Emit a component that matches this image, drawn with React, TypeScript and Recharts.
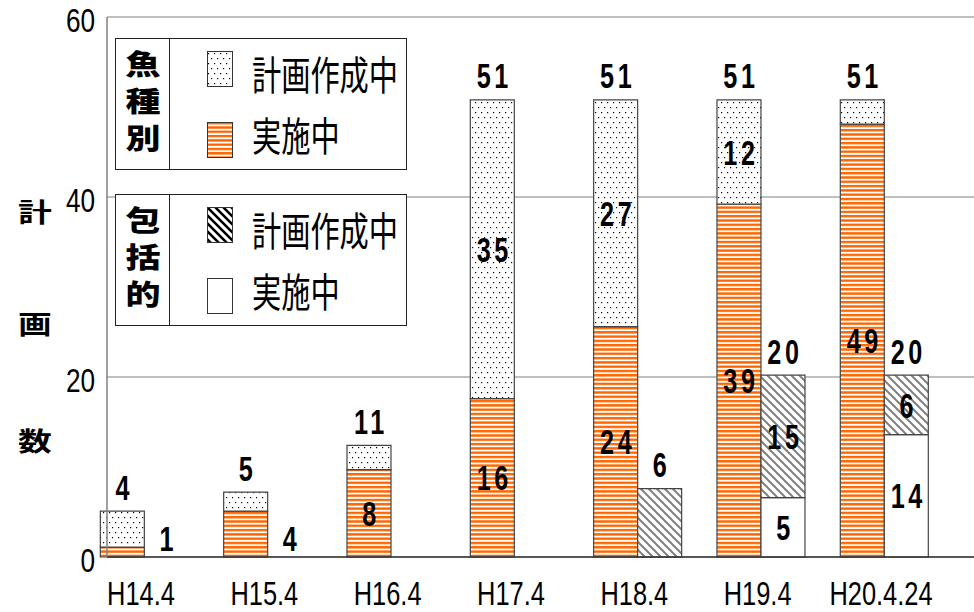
import React from 'react';
import { BarChart, Bar, XAxis, YAxis, CartesianGrid, Legend, LabelList } from 'recharts';

const categories = ['H14.4', 'H15.4', 'H16.4', 'H17.4', 'H18.4', 'H19.4', 'H20.4.24'];

// bar heights as drawn in the picture
const fishDone = [1.1, 5.1, 9.7, 17.6, 25.6, 39.2, 48.1];
const fishPlanning = [4.0, 2.1, 2.7, 33.2, 25.2, 11.6, 2.7];
const compDone = [0, 0, 0, 0, 0, 6.6, 13.6];
const compPlanning = [0, 0, 0, 0, 7.6, 13.6, 6.6];

// numbers printed on the chart
const fishDoneText = ['', '', '8', '16', '24', '39', '49'];
const fishPlanningText = ['', '', '', '35', '27', '12', ''];
const fishTotalText = ['4', '5', '11', '51', '51', '51', '51'];
const fishSideText = ['1', '4', '', '', '', '', ''];
const compDoneText = ['', '', '', '', '', '5', '14'];
const compPlanningText = ['', '', '', '', '', '15', '6'];
const compTotalText = ['', '', '', '', '6', '20', '20'];

const yTicks = [0, 20, 40, 60];
const yTitle = ['計', '画', '数'];
const legendGroups = ['魚種別', '包括的'];
const legendStatus = ['計画作成中', '実施中'];

const rows = categories.map((name, i) => ({
    idx: i,
    name,
    fishDone: fishDone[i],
    fishPlanning: fishPlanning[i],
    compDone: compDone[i],
    compPlanning: compPlanning[i],
    fishDoneText: fishDoneText[i],
    fishPlanningText: fishPlanningText[i],
    fishTotalText: fishTotalText[i],
    fishSideText: fishSideText[i],
    compDoneText: compDoneText[i],
    compPlanningText: compPlanningText[i],
    compTotalText: compTotalText[i],
}));

const sans = "'Liberation Sans', Arial, sans-serif";
const cjk = "'Noto Sans CJK JP', sans-serif";

const box = (props: any) => {
    const vb = props.viewBox || props;
    return { x: Number(vb.x), y: Number(vb.y), w: Number(vb.width), h: Number(vb.height) };
};

// condensed bold numbers, like the original's narrow face
const Num = ({ x, y, text }: { x: number; y: number; text: string }) => (
    <text
        transform={`translate(${x}, ${y}) scale(0.72, 1)`}
        textAnchor="middle"
        dominantBaseline="central"
        fontFamily={sans}
        fontWeight="bold"
        fontSize={35}
        letterSpacing={5}
        fill="#000"
    >
        {text}
    </text>
);

const insideLabel = (props: any) => {
    if (!props.value) return null;
    const { x, y, w, h } = box(props);
    return <Num x={x + w / 2 + 2} y={y + h / 2} text={String(props.value)} />;
};

const aboveLabel = (props: any) => {
    if (!props.value) return null;
    const { x, y, w } = box(props);
    return <Num x={x + w / 2 + 2} y={y - 24} text={String(props.value)} />;
};

// number printed beside the fish bar, near the baseline
const sideLabel = (props: any) => {
    if (!props.value) return null;
    const { x, y, w, h } = box(props);
    return <Num x={x + w * 1.5 + 2} y={y + h - 19} text={String(props.value)} />;
};

const XTick = (props: any) => {
    const { x, y, payload } = props;
    return (
        <text
            transform={`translate(${x - 3}, ${y + 40}) scale(0.77, 1)`}
            textAnchor="middle"
            fontFamily={sans}
            fontSize={33}
            fill="#000"
        >
            {categories[payload.value]}
        </text>
    );
};

const YTick = (props: any) => {
    const { x, y, payload } = props;
    return (
        <text
            transform={`translate(${x - 4}, ${y + 3}) scale(0.77, 1)`}
            textAnchor="end"
            dominantBaseline="central"
            fontFamily={sans}
            fontSize={34}
            fill="#000"
        >
            {payload.value}
        </text>
    );
};

const YTitle = (props: any) => {
    const vb = props.viewBox || {};
    const top = Number(vb.y) || 17;
    const h = Number(vb.height) || 540;
    const spots = [0.358, 0.567, 0.783];
    return (
        <g>
            {yTitle.map((ch, i) => (
                <text
                    key={ch}
                    transform={`translate(35, ${top + h * spots[i]}) scale(1.3, 1)`}
                    textAnchor="middle"
                    dominantBaseline="central"
                    fontFamily={cjk}
                    fontWeight="bold"
                    fontSize={26}
                    fill="#000"
                >
                    {ch}
                </text>
            ))}
        </g>
    );
};

const swatchFills = [
    ['url(#dotsFill)', 'url(#stripeFill)'],
    ['url(#hatchDark)', '#fff'],
];

const LegendPanel = () => (
    <div>
        {legendGroups.map((group, gi) => (
            <div
                key={group}
                style={{
                    position: 'relative',
                    width: 292,
                    height: 132,
                    marginBottom: 24,
                    border: '1.5px solid #222',
                    boxSizing: 'border-box',
                    background: '#fff',
                }}
            >
                <div style={{ position: 'absolute', left: 53, top: 0, bottom: 0, borderLeft: '1.5px solid #222' }} />
                {group.split('').map((ch, ci) => (
                    <div
                        key={ch}
                        style={{
                            position: 'absolute',
                            left: 0,
                            width: 54,
                            top: 9 + ci * 37,
                            height: 30,
                            lineHeight: '30px',
                            textAlign: 'center',
                            fontFamily: cjk,
                            fontWeight: 900,
                            fontSize: 28,
                            transform: 'scaleX(1.25)',
                            color: '#000',
                        }}
                    >
                        {ch}
                    </div>
                ))}
                {legendStatus.map((label, si) => (
                    <React.Fragment key={label}>
                        <svg
                            width={26}
                            height={36}
                            style={{ position: 'absolute', left: 91, top: 12 + si * 71 }}
                        >
                            <rect x={0.5} y={0.5} width={25} height={35} fill={swatchFills[gi][si]} stroke="#333" />
                        </svg>
                        <div
                            style={{
                                position: 'absolute',
                                left: 136,
                                top: 12 + si * 61,
                                height: 44,
                                lineHeight: '44px',
                                fontFamily: cjk,
                                fontSize: 40,
                                whiteSpace: 'nowrap',
                                transform: 'scaleX(0.73)',
                                transformOrigin: 'left center',
                                color: '#000',
                            }}
                        >
                            {label}
                        </div>
                    </React.Fragment>
                ))}
            </div>
        ))}
    </div>
);

export default function App() {
    return (
        <div style={{ position: 'absolute', left: 0, top: 0, width: 974, height: 612, background: '#fff' }}>
            <BarChart
                width={974}
                height={612}
                data={rows}
                margin={{ top: 17, right: 0, left: 0, bottom: 0 }}
                barGap={0}
                barSize={44}
            >
                <defs>
                    <pattern id="dotsFill" width={6} height={10} patternUnits="userSpaceOnUse">
                        <rect width={6} height={10} fill="#fff" />
                        <rect x={1} y={2} width={1.2} height={1.2} fill="#000" />
                        <rect x={4} y={7} width={1.2} height={1.2} fill="#000" />
                    </pattern>
                    <pattern id="stripeFill" width={4} height={4.3} patternUnits="userSpaceOnUse">
                        <rect width={4} height={4.3} fill="#fff" />
                        <rect y={0} width={4} height={2.4} fill="#ff6600" />
                    </pattern>
                    <pattern id="hatchFill" width={8} height={8} patternUnits="userSpaceOnUse">
                        <rect width={8} height={8} fill="#fff" />
                        <path d="M-2,-2 L10,10 M-2,6 L2,10 M6,-2 L10,2" stroke="#808080" strokeWidth={2} />
                    </pattern>
                    <pattern id="hatchDark" width={8} height={8} patternUnits="userSpaceOnUse">
                        <rect width={8} height={8} fill="#fff" />
                        <path d="M-2,-2 L10,10 M-2,6 L2,10 M6,-2 L10,2" stroke="#000" strokeWidth={2.6} />
                    </pattern>
                </defs>
                <CartesianGrid vertical={false} stroke="#808080" strokeWidth={1.2} />
                <XAxis
                    type="number"
                    dataKey="idx"
                    domain={[-0.3, 6.73]}
                    ticks={[0, 1, 2, 3, 4, 5, 6]}
                    interval={0}
                    height={55}
                    tickLine={false}
                    axisLine={{ stroke: '#333', strokeWidth: 1.5 }}
                    tick={<XTick />}
                />
                <YAxis
                    type="number"
                    domain={[0, 60]}
                    ticks={yTicks}
                    interval={0}
                    width={107}
                    tickLine={false}
                    axisLine={{ stroke: '#808080', strokeWidth: 1.5 }}
                    tick={<YTick />}
                    label={{ content: <YTitle /> }}
                />
                <Legend
                    layout="vertical"
                    align="center"
                    verticalAlign="middle"
                    content={<LegendPanel />}
                    wrapperStyle={{ position: 'absolute', top: 38, left: 115, width: 292, height: 290 }}
                />
                <Bar dataKey="fishDone" stackId="fish" fill="url(#stripeFill)" stroke="#444" strokeWidth={1.2} isAnimationActive={false}>
                    <LabelList dataKey="fishDoneText" content={insideLabel} />
                    <LabelList dataKey="fishSideText" content={sideLabel} />
                </Bar>
                <Bar dataKey="fishPlanning" stackId="fish" fill="url(#dotsFill)" stroke="#444" strokeWidth={1.2} isAnimationActive={false}>
                    <LabelList dataKey="fishPlanningText" content={insideLabel} />
                    <LabelList dataKey="fishTotalText" content={aboveLabel} />
                </Bar>
                <Bar dataKey="compDone" stackId="comp" fill="#fff" stroke="#444" strokeWidth={1.2} isAnimationActive={false}>
                    <LabelList dataKey="compDoneText" content={insideLabel} />
                </Bar>
                <Bar dataKey="compPlanning" stackId="comp" fill="url(#hatchFill)" stroke="#444" strokeWidth={1.2} isAnimationActive={false}>
                    <LabelList dataKey="compPlanningText" content={insideLabel} />
                    <LabelList dataKey="compTotalText" content={aboveLabel} />
                </Bar>
            </BarChart>
        </div>
    );
}
